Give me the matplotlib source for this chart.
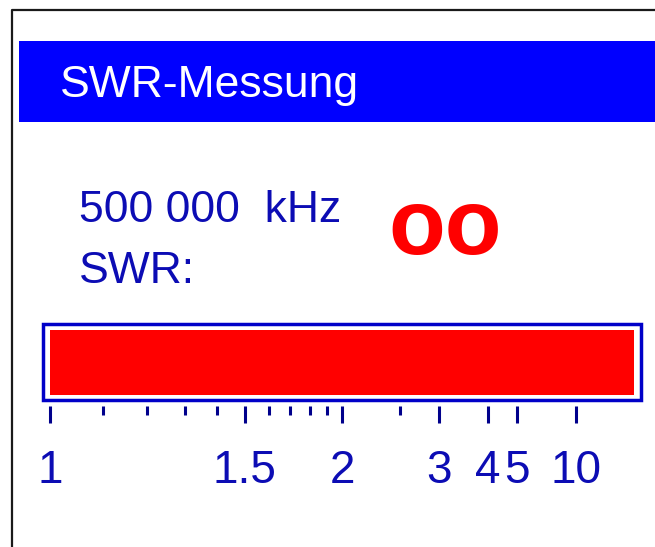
import numpy as np
from matplotlib import pyplot
from matplotlib.patches import Rectangle

# display content
title = 'SWR-Messung'
freq_text = '500 000  kHz'
swr_label = 'SWR:'
swr_text = 'oo'
swr_value = np.inf

# meter scale (swr values)
major_ticks = [1, 1.5, 2, 3, 4, 5, 10]
major_labels = ['1', '1.5', '2', '3', '4', '5', '10']
minor_ticks = [1.1, 1.2, 1.3, 1.4, 1.6, 1.7, 1.8, 1.9, 2.5]
swr_max = 1e9

text_blue = '#0c0cb4'
tick_blue = '#00008c'
frame_blue = '#0000c8'

pyplot.rcParams['font.family'] = ['Liberation Sans', 'DejaVu Sans']

fig = pyplot.figure(figsize=(6.55, 5.47), dpi=100)
fig.patch.set_facecolor('white')

# background axes in pixel units for the screen layout
bg = fig.add_axes([0, 0, 1, 1])
bg.set_xlim(0, 655)
bg.set_ylim(547, 0)
bg.axis('off')

# screen border and header
bg.plot([12, 12, 655], [547, 10, 10], c='#1a1a1a', lw=1.6, solid_capstyle='butt')
bg.add_patch(Rectangle((19, 40.5), 640, 81.5, fc='#0000ff', ec='none'))
bg.text(60, 97, title, color='white', fontsize=32, va='baseline', ha='left')

bg.text(79, 222, freq_text, color=text_blue, fontsize=32, va='baseline', ha='left')
bg.text(79, 283, swr_label, color=text_blue, fontsize=32, va='baseline', ha='left')
bg.text(388, 254, swr_text, color='#ff0000', fontsize=67, fontweight='bold',
        va='baseline', ha='left')

# gauge frame
bg.add_patch(Rectangle((42.7, 323.7), 598, 76.5, fc='none', ec=frame_blue, lw=2.5))

# gauge axes, scale x = 1 - 1/swr
def fwd(s):
    with np.errstate(divide='ignore', invalid='ignore'):
        return 1 - 1 / np.asarray(s, dtype=float)

def inv(x):
    with np.errstate(divide='ignore', invalid='ignore'):
        return 1 / (1 - np.asarray(x, dtype=float))

ax = fig.add_axes([50 / 655, (547 - 395) / 547, 584 / 655, 65 / 547])
ax.set_facecolor('none')
ax.set_xscale('function', functions=(fwd, inv))
ax.set_xlim(1, swr_max)
ax.set_ylim(0, 1)

ax.barh(0.5, min(swr_value, swr_max) - 1, left=1, height=1, color='#ff0000')

ax.set_xticks(major_ticks, major_labels)
ax.set_xticks(minor_ticks, minor=True)
ax.set_yticks([])
for s in ax.spines.values():
    s.set_visible(False)
ax.spines['bottom'].set_position(('outward', 8))
ax.tick_params(axis='x', which='major', direction='out', length=12.2, width=2.2,
               color=tick_blue, labelcolor=text_blue, labelsize=33, pad=19)
ax.tick_params(axis='x', which='minor', direction='out', length=6.5, width=2.2,
               color=tick_blue)

fig.savefig('out.png', dpi=100)
